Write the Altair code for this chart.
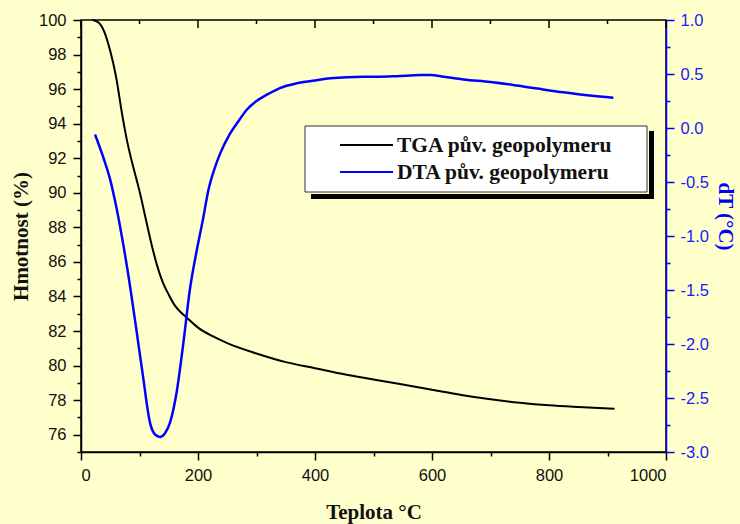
import altair as alt
import pandas as pd

# ---- data ----
tga_temp = [20, 30, 40, 50, 60, 70, 80, 90, 100, 110, 120, 130, 140, 150, 160, 170, 180,
            200, 225, 250, 300, 350, 400, 450, 500, 550, 600, 650, 700, 750, 800, 850, 912]
tga_mass = [100.0, 99.85, 99.3, 98.2, 96.7, 94.6, 92.8, 91.4, 90.1, 88.6, 87.1, 85.8, 84.8,
            84.1, 83.5, 83.1, 82.8, 82.2, 81.7, 81.3, 80.7, 80.2, 79.85, 79.5, 79.2, 78.9,
            78.6, 78.3, 78.05, 77.85, 77.7, 77.6, 77.5]

dta_temp = [24, 38, 50, 58, 65, 72, 84, 95, 106, 118, 127, 135, 143, 152, 164, 175, 186, 198,
            208, 218, 228, 238, 255, 270, 283, 300, 317, 340, 369, 400, 426, 483, 511, 540,
            580, 597, 620, 654, 700, 739, 780, 825, 870, 910]
dta_dt = [-0.06, -0.27, -0.48, -0.67, -0.86, -1.07, -1.47, -1.88, -2.30, -2.73, -2.84, -2.86,
          -2.83, -2.73, -2.43, -1.99, -1.50, -1.13, -0.86, -0.57, -0.38, -0.235, -0.05, 0.07,
          0.167, 0.25, 0.306, 0.37, 0.414, 0.44, 0.46, 0.475, 0.475, 0.48, 0.49, 0.49, 0.475,
          0.45, 0.425, 0.398, 0.365, 0.33, 0.30, 0.28]

series_names = ["TGA pův. geopolymeru", "DTA pův. geopolymeru"]
series_colors = ["#000000", "#0000FF"]

x_ticks = list(range(0, 1001, 100))
y_left_ticks = list(range(75, 101))
y_right_ticks = [v / 4 for v in range(-12, 5)]
x_major = [v for v in x_ticks if v % 200 == 0]
x_minor = [v for v in x_ticks if v % 200 != 0]

BG = "#FFFFCC"
SANS = "Liberation Sans"
SERIF = "Liberation Serif"
W, H = 585, 432

tga = pd.DataFrame({"t": tga_temp, "v": tga_mass})
dta = pd.DataFrame({"t": dta_temp, "v": dta_dt})

x_scale = alt.Scale(domain=[0, 1000], nice=False, zero=False)

x_axis = alt.Axis(
    values=x_ticks,
    format="d",
    labelExpr="datum.value % 200 == 0 ? datum.label : ''",
    tickSize={"condition": {"test": "datum.value % 200 != 0", "value": 4}, "value": 8},
    title="Teplota °C",
    grid=False,
    domainColor="black", tickColor="black", labelColor="#111111",
    domainWidth=1.5, tickWidth=1.5,
    labelFont=SANS, labelFontSize=16.5, labelPadding=7,
    titleFont=SERIF, titleFontSize=21, titleFontWeight="bold", titleColor="#111111",
    titlePadding=18,
)

left_axis = alt.Axis(
    values=y_left_ticks,
    labelExpr="datum.value % 2 == 0 ? datum.label : ''",
    tickSize={"condition": {"test": "datum.value % 2 != 0", "value": 4}, "value": 8},
    title="Hmotnost (%)",
    grid=False,
    domainColor="black", tickColor="black", labelColor="#111111",
    domainWidth=1.5, tickWidth=1.5,
    labelFont=SANS, labelFontSize=16.5, labelPadding=7,
    titleFont=SERIF, titleFontSize=21, titleFontWeight="bold", titleColor="#111111",
    titlePadding=7,
)

right_axis = alt.Axis(
    orient="right",
    values=y_right_ticks,
    labelExpr="(datum.value * 2) % 1 == 0 ? replace(format(datum.value, '.1f'), '\u2212', '-') : ''",
    tickSize={"condition": {"test": "(datum.value * 2) % 1 != 0", "value": 4}, "value": 8},
    title="dT (°C)",
    titleY=196,
    grid=False,
    domainColor="#0000FF", tickColor="#0000FF", labelColor="#1A1AFF",
    domainWidth=1.5, tickWidth=1.5,
    labelFont=SANS, labelFontSize=16.5, labelPadding=6,
    titleFont=SERIF, titleFontSize=21, titleFontWeight="bold", titleColor="#0000FF",
    titlePadding=6,
)

X = alt.X("t:Q", scale=x_scale, axis=x_axis)

tga_line = alt.Chart(tga).mark_line(color=series_colors[0], strokeWidth=2, interpolate="monotone").encode(
    x=X,
    y=alt.Y("v:Q", scale=alt.Scale(domain=[75, 100], nice=False, zero=False), axis=left_axis),
)

dta_line = alt.Chart(dta).mark_line(color=series_colors[1], strokeWidth=2.5, interpolate="monotone").encode(
    x=X,
    y=alt.Y("v:Q", scale=alt.Scale(domain=[-3, 1], nice=False, zero=False), axis=right_axis),
)

# inward ticks on the top frame
top_major = alt.Chart(pd.DataFrame({"t": x_major})).mark_rule(color="black", strokeWidth=1.5).encode(
    x=X, y=alt.value(0), y2=alt.value(8))
top_minor = alt.Chart(pd.DataFrame({"t": x_minor})).mark_rule(color="black", strokeWidth=1.5).encode(
    x=X, y=alt.value(0), y2=alt.value(4))

# legend box with drop shadow
one = pd.DataFrame({"k": [0]})
shadow_r = alt.Chart(one).mark_rect(color="black").encode(
    x=alt.value(568), x2=alt.value(573), y=alt.value(111), y2=alt.value(179))
shadow_b = alt.Chart(one).mark_rect(color="black").encode(
    x=alt.value(230), x2=alt.value(573), y=alt.value(174), y2=alt.value(179))
box = alt.Chart(one).mark_rect(fill="white", stroke="#333333", strokeWidth=1).encode(
    x=alt.value(224), x2=alt.value(566), y=alt.value(106), y2=alt.value(172))

leg_rows = []
for i, name in enumerate(series_names):
    df = pd.DataFrame({"name": [name]})
    yy = 125 + 27 * i
    leg_rows.append(alt.Chart(df).mark_rule(color=series_colors[i], strokeWidth=2).encode(
        x=alt.value(259), x2=alt.value(312), y=alt.value(yy)))
    leg_rows.append(alt.Chart(df).mark_text(
        align="left", baseline="middle", font=SERIF, fontSize=21.5, fontWeight="bold",
        color="#111111", dy=1).encode(
        x=alt.value(316), y=alt.value(yy), text="name:N"))

chart = alt.layer(tga_line, dta_line, top_major, top_minor, shadow_r, shadow_b, box, *leg_rows).resolve_scale(
    y="independent"
).properties(
    width=W, height=H,
    background=BG,
    autosize=alt.AutoSizeParams(type="none"),
    padding={"left": 81, "top": 20, "right": 74, "bottom": 72},
).configure_view(
    stroke="black", strokeWidth=1.5, fill=BG
)

chart.save("out.html", embed_options={"renderer": "svg", "actions": False})
